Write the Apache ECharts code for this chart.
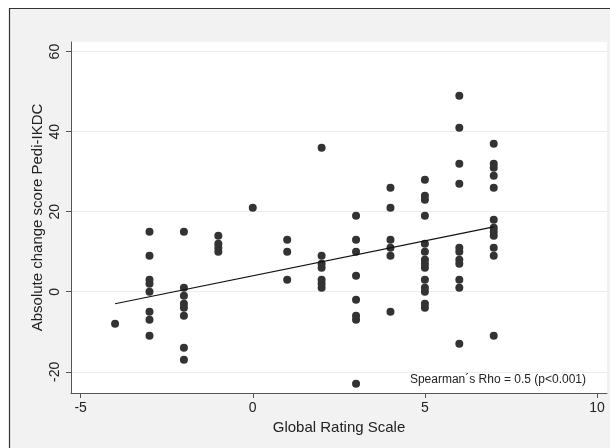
<!DOCTYPE html>
<html>
<head>
<meta charset="utf-8">
<script src="https://cdn.jsdelivr.net/npm/echarts@6/dist/echarts.min.js"></script>
<style>
  html, body { margin: 0; padding: 0; background: #fff; }
  #chart { width: 610px; height: 448px; }
</style>
</head>
<body>
<div id="chart"></div>
<script>
// Global Rating Scale categories and the Pedi-IKDC change scores observed at each
const ratings = [-4, -3, -2, -1, 0, 1, 2, 3, 4, 5, 6, 7];
const scoresByRating = [
  [-8],
  [15, 9, 3, 2, 0, -5, -7, -11],
  [15, 1, -1, -3, -4, -6, -14, -17],
  [14, 12, 11, 10],
  [21],
  [13, 10, 3],
  [36, 9, 7, 6, 3, 2, 1],
  [19, 13, 10, 4, -2, -6, -7, -23],
  [26, 21, 13, 11, 9, -5],
  [28, 24, 23, 19, 12, 10, 8, 7, 6, 3, 1, 0, -3, -4],
  [49, 41, 32, 27, 11, 10, 8, 7, 3, 1, -13],
  [37, 32, 31, 29, 26, 18, 16, 15, 14, 11, 9, -11]
];
// fitted line end points
const fitX = [-4, 7];
const fitY = [-3.0, 16.2];
// tick labels
const xTicks = [-5, 0, 5, 10];
const yTicks = [-20, 0, 20, 40, 60];
const xTitle = 'Global Rating Scale';
const yTitle = 'Absolute change score Pedi-IKDC';
const note = 'Spearman\u00b4s Rho = 0.5 (p<0.001)';

const points = [];
ratings.forEach((r, i) => scoresByRating[i].forEach(v => points.push([r, v])));
const fitLine = fitX.map((x, i) => [x, fitY[i]]);

const FONT = '"Liberation Sans", Arial, Helvetica, sans-serif';
const chart = echarts.init(document.getElementById('chart'), null, { renderer: 'canvas' });
chart.setOption({
  animation: false,
  backgroundColor: '#f2f2f2',
  textStyle: { fontFamily: FONT },
  grid: {
    left: 71, top: 42, right: 3, bottom: 55,
    show: true, backgroundColor: '#ffffff', borderWidth: 0
  },
  xAxis: {
    type: 'value',
    min: -5.28, max: 10.29,
    name: xTitle,
    nameLocation: 'middle',
    nameGap: 27,
    nameMoveOverlap: false,
    nameTextStyle: { fontSize: 15, color: '#222', fontFamily: FONT },
    axisLine: { show: true, onZero: false, lineStyle: { color: '#555', width: 1 } },
    axisTick: { show: true, length: 5, customValues: xTicks, lineStyle: { color: '#555' } },
    axisLabel: { customValues: xTicks, fontSize: 14, color: '#222', margin: 8, fontFamily: FONT },
    splitLine: { show: false }
  },
  yAxis: {
    type: 'value',
    min: -25.3, max: 62.4,
    name: yTitle,
    nameLocation: 'middle',
    nameRotate: 90,
    nameGap: 26,
    nameMoveOverlap: false,
    nameTextStyle: { fontSize: 15, color: '#222', fontFamily: FONT },
    axisLine: { show: true, onZero: false, lineStyle: { color: '#555', width: 1 } },
    axisTick: { show: true, length: 5, customValues: yTicks, lineStyle: { color: '#555' } },
    axisLabel: { customValues: yTicks, rotate: 90, fontSize: 14, color: '#222', margin: 9, fontFamily: FONT },
    splitLine: { show: true, lineStyle: { color: '#ececec', width: 1 } }
  },
  graphic: [
    { type: 'rect', shape: { x: 0, y: 0, width: 610, height: 8 }, style: { fill: '#fff' }, silent: true },
    { type: 'rect', shape: { x: 0, y: 0, width: 9, height: 448 }, style: { fill: '#fff' }, silent: true },
    { type: 'polyline', shape: { points: [[9.5, 448], [9.5, 8.5], [610, 8.5]] }, style: { stroke: '#333', lineWidth: 1.2, fill: null }, silent: true },
    { type: 'text', right: 24, top: 374, style: { text: note, fontSize: 12, fill: '#222', font: '12px ' + FONT }, silent: true }
  ],
  series: [
    {
      type: 'scatter',
      data: points,
      symbol: 'circle',
      symbolSize: 8,
      itemStyle: { color: '#333333', opacity: 1 },
      silent: true
    },
    {
      type: 'line',
      data: fitLine,
      symbol: 'none',
      lineStyle: { color: '#111', width: 1.2 },
      silent: true
    }
  ]
});
</script>
</body>
</html>
